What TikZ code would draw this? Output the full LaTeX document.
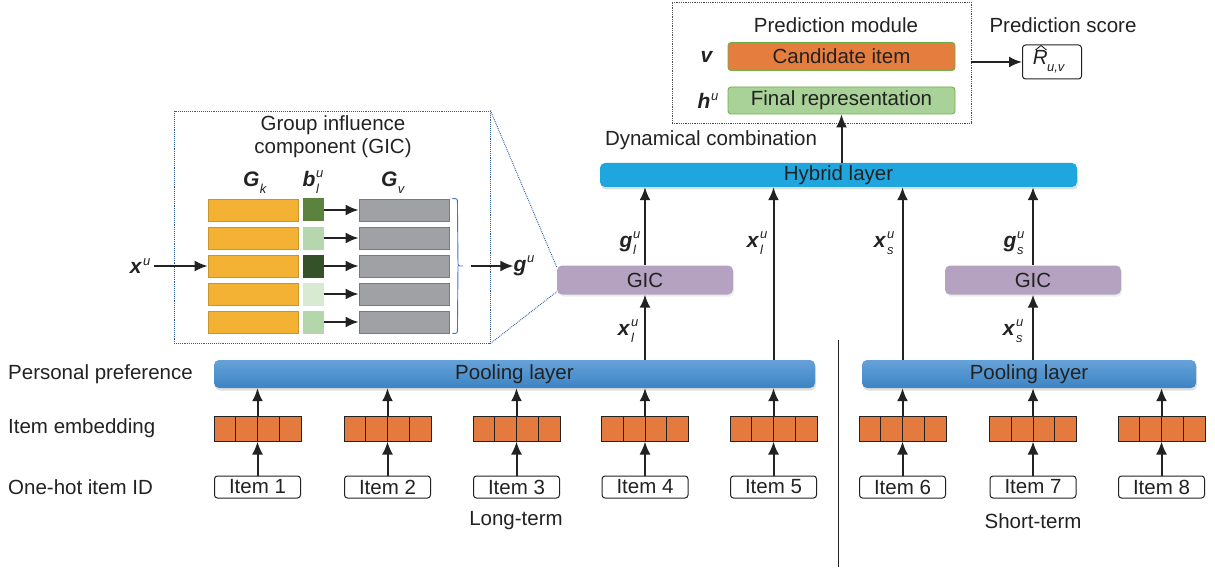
\documentclass[tikz,border=0pt]{standalone}
\usepackage{fontspec}
\setmainfont{Liberation Sans}
\usetikzlibrary{arrows.meta,shadows,calc}
\definecolor{embor}{HTML}{E57A3F}
\definecolor{cand}{HTML}{E57D3E}
\definecolor{finalg}{HTML}{A8D298}
\definecolor{greenbd}{HTML}{70AD47}
\definecolor{hybridc}{HTML}{1FA6DE}
\definecolor{pooltop}{HTML}{66A2D8}
\definecolor{poolbot}{HTML}{3C84C4}
\definecolor{gicc}{HTML}{B4A2C0}
\definecolor{gold}{HTML}{F3B234}
\definecolor{goldbd}{HTML}{C8962A}
\definecolor{grayc}{HTML}{A0A1A4}
\definecolor{graybd}{HTML}{7A7A7C}
\definecolor{gA}{HTML}{5B823F}
\definecolor{gB}{HTML}{B6D7AE}
\definecolor{gC}{HTML}{35512A}
\definecolor{gD}{HTML}{D8EAD2}
\definecolor{gE}{HTML}{B3D6AB}
\definecolor{dotblue}{HTML}{2F5FAA}
\definecolor{bracec}{HTML}{4472C4}
\definecolor{txt}{HTML}{222222}
\newcommand{\subsz}{\fontsize{13}{13}\selectfont}
\newcommand{\vsym}[3]{\textbf{\textit{#1}}\kern0.04em\ooalign{\raisebox{0.42em}{\subsz\textit{#2}}\cr\raisebox{-0.32em}{\subsz\textit{#3}}\cr}}
\newcommand{\vsup}[2]{\textbf{\textit{#1}}\kern0.04em\raisebox{0.42em}{\subsz\textit{#2}}}
\newcommand{\vsub}[2]{\textbf{\textit{#1}}\kern0.02em\raisebox{-0.32em}{\subsz\textit{#2}}}
\begin{document}
\begin{tikzpicture}[x=1pt,y=-1pt,
  every node/.style={inner sep=0pt,text=txt,font=\fontsize{20.5}{24}\selectfont},
  arr/.style={line width=2pt,draw=txt,-{Latex[length=13pt,width=11pt]}},
  emb/.style={draw=txt,line width=1pt,fill=embor,minimum width=87pt,minimum height=25pt,
    path picture={\foreach \k in {1,2,3}{\draw[txt,line width=1pt] ([xshift=\k*21.75pt]path picture bounding box.north west) -- ([xshift=\k*21.75pt]path picture bounding box.south west);}}},
  itembox/.style={draw=txt,line width=1pt,rounded corners=3pt,fill=white,minimum width=86pt,minimum height=22pt},
  pool/.style={rounded corners=5pt,top color=pooltop,bottom color=poolbot,minimum height=28pt,
    drop shadow={opacity=0.25,shadow xshift=1pt,shadow yshift=-2.5pt}},
  gicbox/.style={rounded corners=5pt,fill=gicc,minimum width=176pt,minimum height=29pt,
    drop shadow={opacity=0.15,shadow xshift=1pt,shadow yshift=-2pt}},
  goldbar/.style={draw=goldbd,line width=0.8pt,fill=gold,minimum width=90pt,minimum height=22pt},
  graybar/.style={draw=graybd,line width=0.8pt,fill=grayc,minimum width=90pt,minimum height=22pt},
  gsq/.style={fill=#1,minimum width=21pt,minimum height=23pt},
  predbox/.style={rounded corners=3pt,draw=greenbd,line width=0.8pt,minimum width=227pt,minimum height=28pt},
  lbl/.style={font=\fontsize{21}{24}\selectfont}
]
\useasboundingbox (0,0) rectangle (1215,572);

% ---------- prediction module ----------
\node[draw=txt!80,densely dotted,line width=0.8pt,minimum width=299pt,minimum height=121pt] (pm) at (821.5,62.5) {};
\node (pmt) at (836,25) {Prediction module};
\node[predbox,fill=cand] (cand) at (841.5,56.5) {Candidate item};
\node[predbox,fill=finalg,minimum height=27pt] (fin) at (841.5,100.5) {Final representation};
\node[lbl] (v) at (707,57) {\textbf{\textit{v}}};
\node[lbl] (hu) at (708,101) {\vsup{h}{u}};
\node (pst) at (1063,25) {Prediction score};
\node[draw=txt,line width=1pt,rounded corners=3pt,minimum width=59pt,minimum height=34pt] (rb) at (1052,62) {\raisebox{-4pt}{\textit{R}\kern-0.03em\raisebox{-0.32em}{\subsz\textit{u,v}}}\kern6pt};
\coordinate (hatA) at (1035.5,50);
\coordinate (hatB) at (1041,45.5);
\coordinate (hatC) at (1046.5,50);
\draw[txt,line width=0.9pt] (hatA) -- (hatB) -- (hatC);
\draw[arr] (pm.east |- rb.west) -- (rb.west);

% ---------- hybrid ----------
\node (dc) at (711,140) {Dynamical combination};
\node[rounded corners=5pt,fill=hybridc,minimum width=477pt,minimum height=24pt,
  drop shadow={opacity=0.25,shadow xshift=1pt,shadow yshift=-2.5pt}] (hy) at (838.5,175) {Hybrid layer};
\draw[arr] (hy.north -| fin.south) -- (fin.south);

% ---------- items and embeddings ----------
\foreach \i/\x in {1/257.5,2/387.5,3/516.5,4/645,5/773.5,6/902.5,7/1033,8/1161.5}{
  \node[itembox] (it\i) at (\x,487) {Item \i};
  \node[emb] (e\i) at (\x,428.5) {};
  \draw[arr] (it\i.north) -- (e\i.south);
}
\node[pool,minimum width=601pt] (pl) at (514.5,374) {Pooling layer};
\node[pool,minimum width=334pt] (ps) at (1029,374) {Pooling layer};
\foreach \i in {1,2,3,4,5}{\draw[arr] (e\i.north) -- (pl.south -| e\i.north);}
\foreach \i in {6,7,8}{\draw[arr] (e\i.north) -- (ps.south -| e\i.north);}

% ---------- GIC nodes ----------
\node[gicbox] (gl) at (645,280) {GIC};
\node[gicbox] (gs) at (1033,280) {GIC};
\draw[arr] (pl.north -| gl.south) -- (gl.south);
\draw[arr] (gl.north) -- (hy.south -| gl.north);
\draw[arr] (pl.north -| e5.north) -- (hy.south -| e5.north);
\draw[arr] (ps.north -| e6.north) -- (hy.south -| e6.north);
\draw[arr] (ps.north -| gs.south) -- (gs.south);
\draw[arr] (gs.north) -- (hy.south -| gs.north);
\node[lbl] (glu) at (630,243) {\vsym{g}{u}{l}};
\node[lbl] (xlu) at (757,243) {\vsym{x}{u}{l}};
\node[lbl] (xsu) at (884,243) {\vsym{x}{u}{s}};
\node[lbl] (gsu) at (1014,243) {\vsym{g}{u}{s}};
\node[lbl] (xlu2) at (628,331) {\vsym{x}{u}{l}};
\node[lbl] (xsu2) at (1013,331) {\vsym{x}{u}{s}};

% ---------- GIC detail ----------
\node[draw=dotblue,densely dotted,line width=0.9pt,minimum width=316pt,minimum height=232pt] (gd) at (332,227) {};
\node (gt1) at (333,125) {Group influence};
\node (gt2) at (333,148) {component (GIC)};
\node[lbl] (gk) at (255,183) {\vsub{G}{k}};
\node[lbl] (bl) at (313,182) {\vsym{b}{u}{l}};
\node[lbl] (gv) at (393,183) {\vsub{G}{v}};
\foreach \r/\y/\c in {1/210/gA,2/238/gB,3/266/gC,4/294/gD,5/322/gE}{
  \node[goldbar] (ob\r) at (253,\y) {};
  \node[gsq=\c] (sq\r) at (313.5,\y) {};
  \node[graybar] (gb\r) at (404,\y) {};
  \draw[arr] (sq\r.east) -- (gb\r.west);
}
\coordinate (brtip) at (463,266);
\draw[bracec,line width=0.9pt,rounded corners=2pt] (gb1.north east) ++(3pt,0) -- ++(5pt,0) -- (458,266) -- (brtip);
\draw[bracec,line width=0.9pt,rounded corners=2pt] (gb5.south east) ++(3pt,0) -- ++(5pt,0) -- (458,266);
\node[lbl] (gu) at (524,266) {\vsup{g}{u}};
\draw[arr] (471,266) -- (gu.west);
\node[lbl] (xu) at (140,266) {\vsup{x}{u}};
\draw[arr] (xu.east) ++(4pt,0) -- (ob3.west);
\draw[dotblue,densely dotted,line width=0.9pt] (gd.north east) -- ([yshift=-2pt]gl.north west);
\draw[dotblue,densely dotted,line width=0.9pt] (gd.south east) -- ([yshift=3pt]gl.south west);

% ---------- side labels ----------
\node[anchor=west] (pp) at (8,374) {Personal preference};
\node[anchor=west] (ie) at (8,428) {Item embedding};
\node[anchor=west] (oh) at (8,487) {One-hot item ID};
\node (lt) at (516,521) {Long-term};
\node (st) at (1033,521) {Short-term};
\coordinate (dv1) at (838,340);
\coordinate (dv2) at (838,567);
\draw[txt,line width=0.9pt] (dv1) -- (dv2);
\end{tikzpicture}
\end{document}
